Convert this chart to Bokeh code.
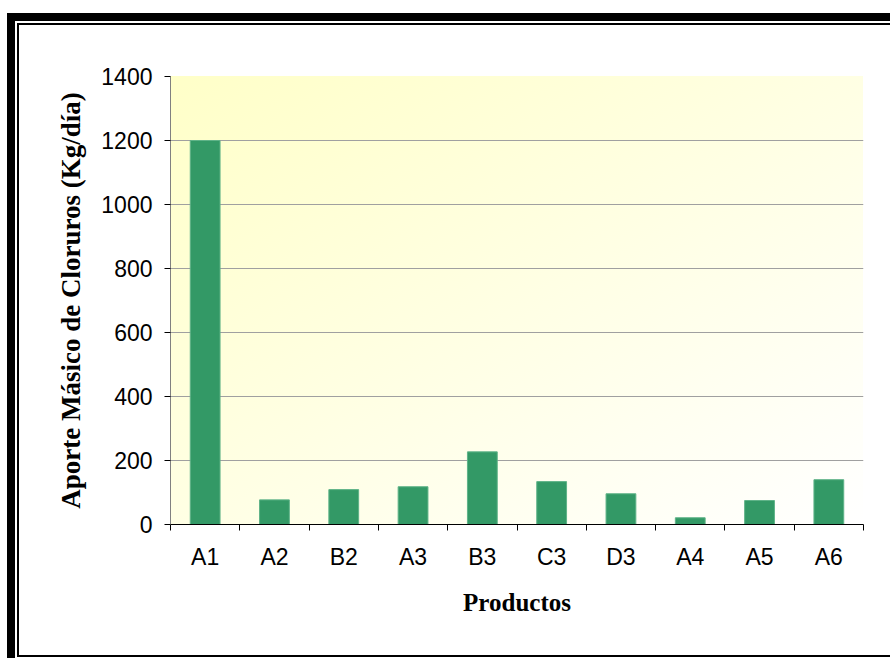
from bokeh.plotting import figure
from bokeh.models import Range1d, LinearAxis, FixedTicker, ColumnDataSource
from bokeh.embed import file_html
from bokeh.resources import INLINE

# ---- data ----
productos = ["A1", "A2", "B2", "A3", "B3", "C3", "D3", "A4", "A5", "A6"]
aporte = [1200, 77, 109, 118, 227, 134, 96, 21, 75, 140]
y_ticks = [0, 200, 400, 600, 800, 1000, 1200, 1400]

n = len(productos)
pos = list(range(1, n + 1))
src = ColumnDataSource(dict(x=pos, top=aporte, name=productos))

p = figure(width=871, height=630,
           x_range=Range1d(0.5, n + 0.5), y_range=Range1d(y_ticks[0], y_ticks[-1]),
           x_axis_type=None, output_backend="svg", toolbar_location=None,
           min_border_left=151, min_border_top=51, min_border_right=27, min_border_bottom=131)
p.margin = (25, 0, 0, 19)
p.styles = {
    "box-shadow": "0 0 0 2px #000000, 0 0 0 4px #ffffff, 0 0 0 12px #000000",
    "background": "linear-gradient(to bottom right, #FFFFC8, #FFFFFF) 151px 51px / 693px 448px no-repeat, #FFFFFF",
}
p.background_fill_alpha = 0
p.border_fill_alpha = 0
p.outline_line_color = None

p.vbar(x="x", top="top", width=0.43, source=src,
       fill_color="#339966", line_color="#5fb388", line_width=1)

# y axis
ya = p.yaxis[0]
ya.ticker = FixedTicker(ticks=y_ticks)
ya.axis_line_color = "#808080"
ya.major_tick_line_color = "#000000"
ya.major_tick_in = 0
ya.major_tick_out = 6
ya.minor_tick_line_color = None
ya.major_label_text_font = "Liberation Sans"
ya.major_label_text_font_size = "23px"
ya.major_label_text_color = "#000000"
ya.major_label_standoff = 12
ya.axis_label = "Aporte Másico de Cloruros (Kg/día)"
ya.axis_label_text_font = "Liberation Serif"
ya.axis_label_text_font_style = "bold"
ya.axis_label_text_font_size = "27px"
ya.axis_label_text_color = "#000000"
ya.axis_label_standoff = 12

p.ygrid.ticker = FixedTicker(ticks=y_ticks)
p.ygrid.grid_line_color = "#a0a0a0"

# x axis: labels at category centres, ticks between categories
xa = LinearAxis(ticker=FixedTicker(ticks=pos, minor_ticks=[i + 0.5 for i in range(0, n + 1)]))
xa.major_label_overrides = {i: name for i, name in zip(pos, productos)}
xa.axis_line_color = "#000000"
xa.major_tick_line_color = None
xa.minor_tick_line_color = "#000000"
xa.minor_tick_in = 0
xa.minor_tick_out = 6
xa.major_label_text_font = "Liberation Sans"
xa.major_label_text_font_size = "23px"
xa.major_label_text_color = "#000000"
xa.major_label_standoff = 13
xa.axis_label = "Productos"
xa.axis_label_text_font = "Liberation Serif"
xa.axis_label_text_font_style = "bold"
xa.axis_label_text_font_size = "25px"
xa.axis_label_text_color = "#000000"
xa.axis_label_standoff = 16
p.add_layout(xa, "below")

open("out.html", "w").write(file_html(p, INLINE))
